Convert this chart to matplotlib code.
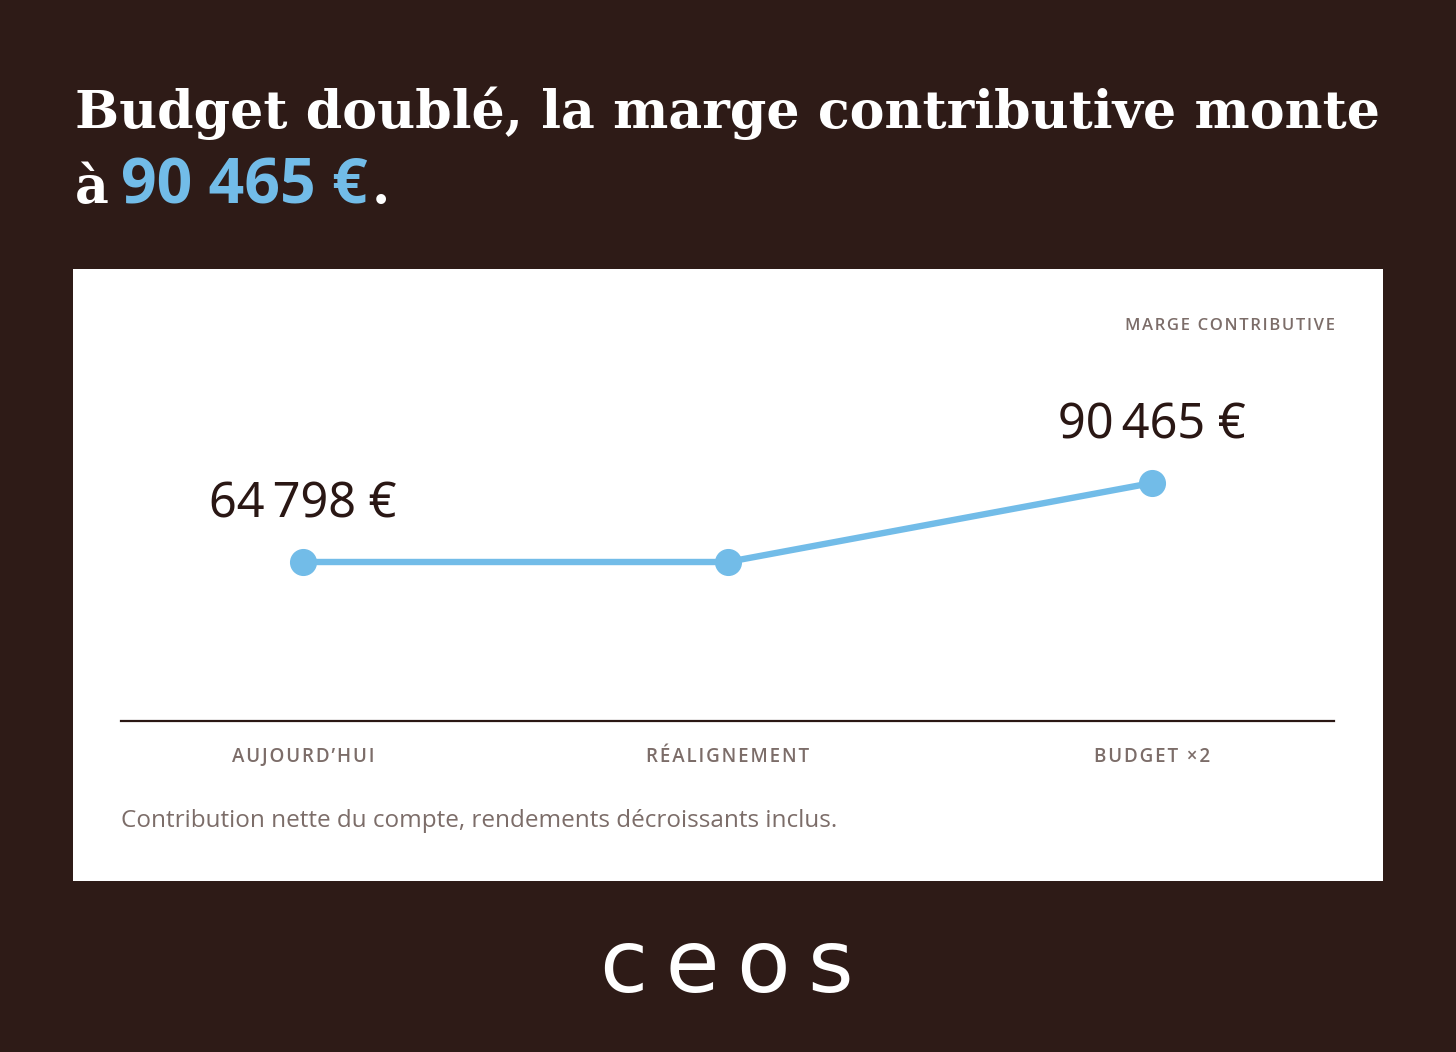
import numpy as np
import matplotlib.pyplot as plt
from matplotlib.patches import Rectangle

# data
categories = ["AUJOURD\u2019HUI", "R\u00c9ALIGNEMENT", "BUDGET \u00d72"]
marge = [64798, 64798, 90465]
show_label = [True, False, True]

title_line1 = "Budget doubl\u00e9, la marge contributive monte"
title_pre = "\u00e0"
title_value = "90 465 \u20ac"
title_post = "."
series_name = "MARGE CONTRIBUTIVE"
note = "Contribution nette du compte, rendements d\u00e9croissants inclus."
logo = "ceos"

BG = "#2e1b17"
BLUE = "#72bce8"
DARK = "#2a1714"
GREY = "#7c6d69"
SANS = ["Open Sans", "DejaVu Sans"]
SERIF = ["DejaVu Serif"]

W, H = 1456, 1052


def fx(px):
    return px / W


def fy(py):
    return 1 - py / H


def spaced(s, gap="\u200a"):
    return gap.join(list(s))


def euro(v):
    s = f"{v:,}".replace(",", "\u202f")
    return s + "\u00a0\u20ac"


fig = plt.figure(figsize=(W / 100, H / 100), dpi=100, facecolor=BG)

# white card
fig.patches.append(Rectangle((fx(73), fy(881)), fx(1383) - fx(73), fy(269) - fy(881),
                             transform=fig.transFigure, facecolor="white",
                             edgecolor="none", zorder=-5))

# title
t1 = fig.text(fx(75), fy(128), title_line1, color="white", fontsize=40,
              fontweight="bold", family=SERIF, va="baseline")
fig.canvas.draw()
r = fig.canvas.get_renderer()
bb = t1.get_window_extent(r)
t1.set_fontsize(40 * (1303 / bb.width))

ta = fig.text(fx(75), fy(203), title_pre, color="white", fontsize=t1.get_fontsize(),
              fontweight="bold", family=SERIF, va="baseline")
bb = ta.get_window_extent(r)
tb = fig.text((bb.x1 + 12) / W, fy(203), title_value, color=BLUE, fontsize=45,
              fontweight="bold", family=SANS, va="baseline")
bb = tb.get_window_extent(r)
fig.text((bb.x1 + 4) / W, fy(203), title_post, color="white", fontsize=t1.get_fontsize(),
         fontweight="bold", family=SERIF, va="baseline")

# chart axes
ax_left, ax_right, ax_top, ax_bottom = 121, 1334, 300, 721
ax = fig.add_axes([fx(ax_left), fy(ax_bottom), fx(ax_right) - fx(ax_left), fy(ax_top) - fy(ax_bottom)])
ax.set_facecolor("none")

x = np.arange(len(categories))
step = 425
pad = (303 - ax_left) / step
ax.set_xlim(-pad, len(categories) - 1 + pad)

# y scale so that values sit where they do in the card
k = (562 - 483) / (marge[2] - marge[0])
ax.set_ylim(marge[0] - (ax_bottom - 562) / k, marge[0] + (562 - ax_top) / k)

ax.plot(x, marge, color=BLUE, lw=4.6, marker="o", markersize=18.5,
        solid_capstyle="round", zorder=3, clip_on=False)

for xi, v, show in zip(x, marge, show_label):
    if show:
        ax.annotate(euro(v), (xi, v), xytext=(0, 32), textcoords="offset points",
                    ha="center", va="baseline", fontsize=35, color=DARK,
                    family=["Noto Sans", "DejaVu Sans"], fontweight="medium")

for xi, c in zip(x, categories):
    ax.text(xi, -36 / (ax_bottom - ax_top), spaced(c), transform=ax.get_xaxis_transform(),
            ha="center", va="center", fontsize=13.5, color=GREY, family=SANS,
            fontweight="semibold")

for s in ["top", "left", "right"]:
    ax.spines[s].set_visible(False)
ax.spines["bottom"].set_color(DARK)
ax.spines["bottom"].set_linewidth(1.6)
ax.set_xticks([])
ax.set_yticks([])

fig.text(fx(1335), fy(326), spaced(series_name), ha="right", va="center",
         fontsize=12, color=GREY, family=SANS, fontweight="semibold")
fig.text(fx(121), fy(821), note, ha="left", va="center", fontsize=17.5,
         color=GREY, family=SANS)

# logo
fig.text(fx(727), fy(968), spaced(logo, "\u2009"), ha="center", va="center",
         fontsize=63, color="white", family=["DejaVu Sans"])

fig.savefig("out.png", dpi=100, facecolor=BG)
